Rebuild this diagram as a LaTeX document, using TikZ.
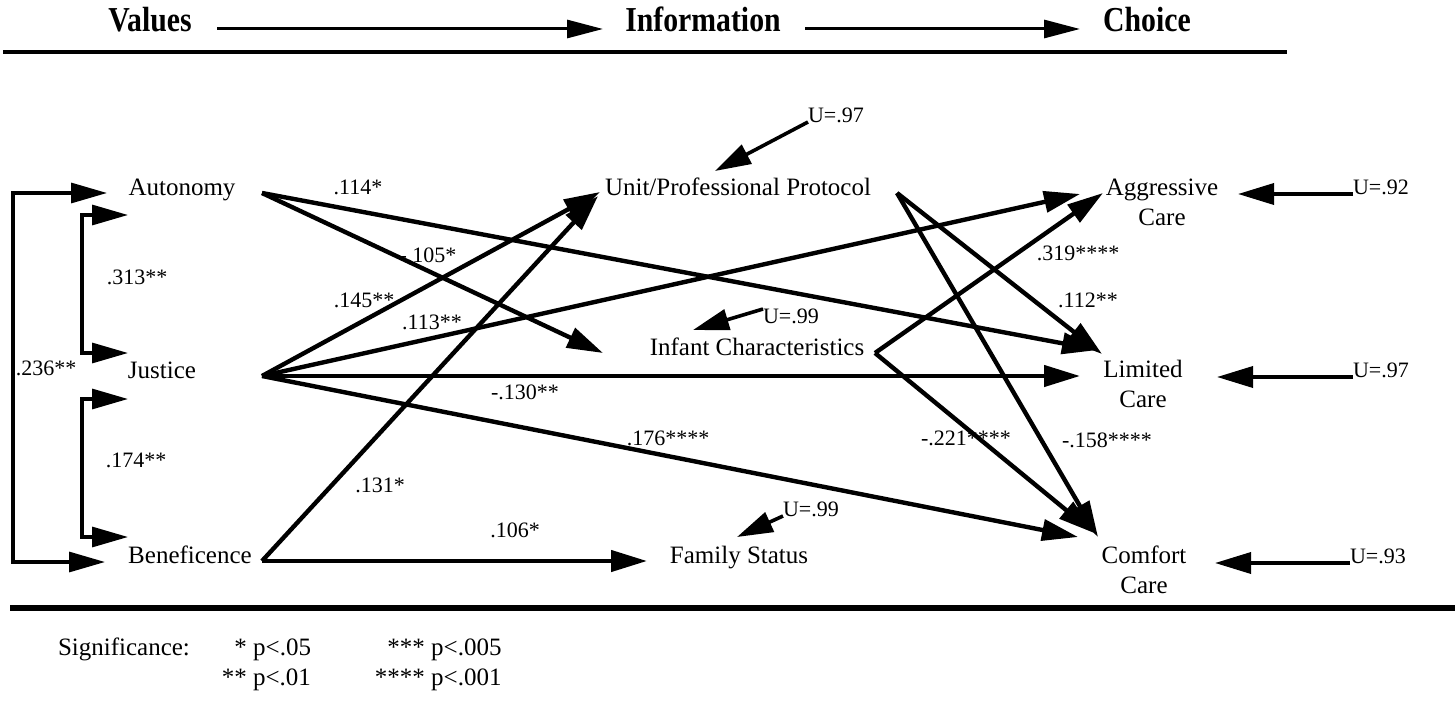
\documentclass[tikz,border=0pt]{standalone}
\usepackage{fontspec}
\setmainfont{Liberation Serif}
\newfontfamily\headfont[FakeStretch=0.85]{Liberation Serif}
\usetikzlibrary{arrows.meta}
\begin{document}
\begin{tikzpicture}[x=0.5pt,y=-0.5pt,
  every node/.style={inner sep=0pt, outer sep=0pt},
  concept/.style={font=\fontsize{12.5pt}{15pt}\selectfont, anchor=base},
  choicebox/.style={font=\fontsize{12.5pt}{15pt}\selectfont, align=center},
  head/.style={font=\headfont\bfseries\fontsize{17.5pt}{20pt}\selectfont, anchor=base},
  coef/.style={font=\fontsize{11pt}{13pt}\selectfont},
  resid/.style={font=\fontsize{11pt}{13pt}\selectfont},
  bigtip/.style={-{Triangle[length=18pt,width=10.5pt]}},
  link/.style={bigtip, line width=2.2pt},
  uarrow/.style={bigtip, line width=1.8pt},
  headarrow/.style={-{Triangle[length=18pt,width=9pt]}, line width=1.5pt},
  corr/.style={{Triangle[length=18pt,width=10pt]}-{Triangle[length=18pt,width=10pt]}, line width=1.6pt},
  rule/.style={line width=#1}
]
\useasboundingbox (0,0) rectangle (1455,722);

% ---------- headings ----------
\node[head] (values) at (150,32) {Values};
\node[head] (info) at (703,32) {Information};
\node[head] (choice) at (1147,32) {Choice};
\coordinate (h1s) at (217,29);
\coordinate (h1e) at (603,29);
\coordinate (h2s) at (805,29);
\coordinate (h2e) at (1080,29);
\draw[headarrow] (h1s) -- (h1e);
\draw[headarrow] (h2s) -- (h2e);
\coordinate (topL) at (3,52);
\coordinate (topR) at (1287,52);
\draw[rule=2pt] (topL) -- (topR);

% ---------- concepts ----------
\node[concept] (aut) at (182,195) {Autonomy};
\node[concept] (jus) at (162,378) {Justice};
\node[concept] (ben) at (190,563) {Beneficence};
\node[concept] (unit) at (738,195) {Unit/Professional Protocol};
\node[concept] (inf) at (757,355) {Infant Characteristics};
\node[concept] (fam) at (739,563) {Family Status};
\node[choicebox] (agg) at (1162,202) {Aggressive\\Care};
\node[choicebox] (lim) at (1143,384) {Limited\\Care};
\node[choicebox] (com) at (1144,570) {Comfort\\Care};

% ---------- ports ----------
\coordinate (autOut) at (262,193);
\coordinate (jusOut) at (262,376);
\coordinate (benOut) at (262,561);
\coordinate (unitOut) at (897,193);
\coordinate (infOut) at (875,353);
\coordinate (unitInJ) at (600,192);
\coordinate (unitInB) at (598,196);
\coordinate (infIn) at (603,353);
\coordinate (famIn) at (647,561);
\coordinate (aggInJ) at (1080,194);
\coordinate (aggInI) at (1103,193);
\coordinate (limInA) at (1098,350);
\coordinate (limInJ) at (1080,376);
\coordinate (limInU) at (1102,354);
\coordinate (comInJ) at (1078,537);
\coordinate (comInU) at (1098,537);
\coordinate (comInI) at (1094,533);

% ---------- correlations among values ----------
\coordinate (oA) at (107,193);
\coordinate (oA1) at (13,193);
\coordinate (oB1) at (13,562);
\coordinate (oB) at (105,562);
\draw[corr] (oA) -- (oA1) -- (oB1) -- (oB);
\coordinate (iA) at (128,215);
\coordinate (iA1) at (82,215);
\coordinate (iJ1) at (82,353);
\coordinate (iJ) at (128,353);
\draw[corr] (iA) -- (iA1) -- (iJ1) -- (iJ);
\coordinate (jA) at (128,399);
\coordinate (jA1) at (82,399);
\coordinate (jB1) at (82,537);
\coordinate (jB) at (128,537);
\draw[corr] (jA) -- (jA1) -- (jB1) -- (jB);
\node[coef] (c313) at (137,277) {.313**};
\node[coef] (c236) at (46,368) {.236**};
\node[coef] (c174) at (136,460) {.174**};

% ---------- paths ----------
\draw[link] (autOut) -- (limInA);
\draw[link] (autOut) -- (infIn);
\draw[link] (jusOut) -- (unitInJ);
\draw[link] (jusOut) -- (aggInJ);
\draw[link] (jusOut) -- (limInJ);
\draw[link] (jusOut) -- (comInJ);
\draw[link] (benOut) -- (unitInB);
\draw[link] (benOut) -- (famIn);
\draw[link] (unitOut) -- (limInU);
\draw[link] (unitOut) -- (comInU);
\draw[link] (infOut) -- (aggInI);
\draw[link] (infOut) -- (comInI);

\node[coef] (p1) at (358,187) {.114*};
\node[coef] (p2) at (428,255) {-.105*};
\node[coef] (p3) at (364,300) {.145**};
\node[coef] (p4) at (432,322) {.113**};
\node[coef] (p5) at (525,392) {-.130**};
\node[coef] (p6) at (668,438) {.176****};
\node[coef] (p7) at (380,485) {.131*};
\node[coef] (p8) at (515,530) {.106*};
\node[coef] (p9) at (1088,300) {.112**};
\node[coef] (p10) at (1107,440) {-.158****};
\node[coef] (p11) at (1078,253) {.319****};
\node[coef] (p12) at (966,438) {-.221****};

% ---------- residuals ----------
\node[resid, anchor=base west] (uUnit) at (808,122) {U=.97};
\node[resid, anchor=north west] (uInf) at (763,309) {U=.99};
\node[resid, anchor=base west] (uFam) at (783,516) {U=.99};
\node[resid, anchor=base west] (uAgg) at (1353,194) {U=.92};
\node[resid, anchor=base west] (uLim) at (1353,377) {U=.97};
\node[resid, anchor=base west] (uCom) at (1350,563) {U=.93};
\coordinate (uUnitTip) at (715,171);
\coordinate (uInfTip) at (693,330);
\coordinate (uFamTip) at (737,537);
\coordinate (uAggTip) at (1238,194);
\coordinate (uLimTip) at (1217,377);
\coordinate (uComTip) at (1215,563);
\draw[uarrow] (uUnit.base west) -- (uUnitTip);
\draw[uarrow] (uInf.north west) -- (uInfTip);
\draw[uarrow] (uFam.base west) -- (uFamTip);
\draw[uarrow] (uAgg.base west) -- (uAggTip);
\draw[uarrow] (uLim.base west) -- (uLimTip);
\draw[uarrow] (uCom.base west) -- (uComTip);

% ---------- bottom rule and legend ----------
\coordinate (botL) at (10,608);
\coordinate (botR) at (1455,608);
\draw[rule=3pt] (botL) -- (botR);
\node[anchor=north west, font=\fontsize{12.5pt}{15pt}\selectfont] (legend) at (58,634)
  {\begin{tabular}{@{}l@{\hspace{16pt}}r@{ }l@{\hspace{32pt}}r@{ }l@{}}
   Significance: & * & p<.05 & *** & p<.005\\
                 & ** & p<.01 & **** & p<.001
   \end{tabular}};
\end{tikzpicture}
\end{document}
